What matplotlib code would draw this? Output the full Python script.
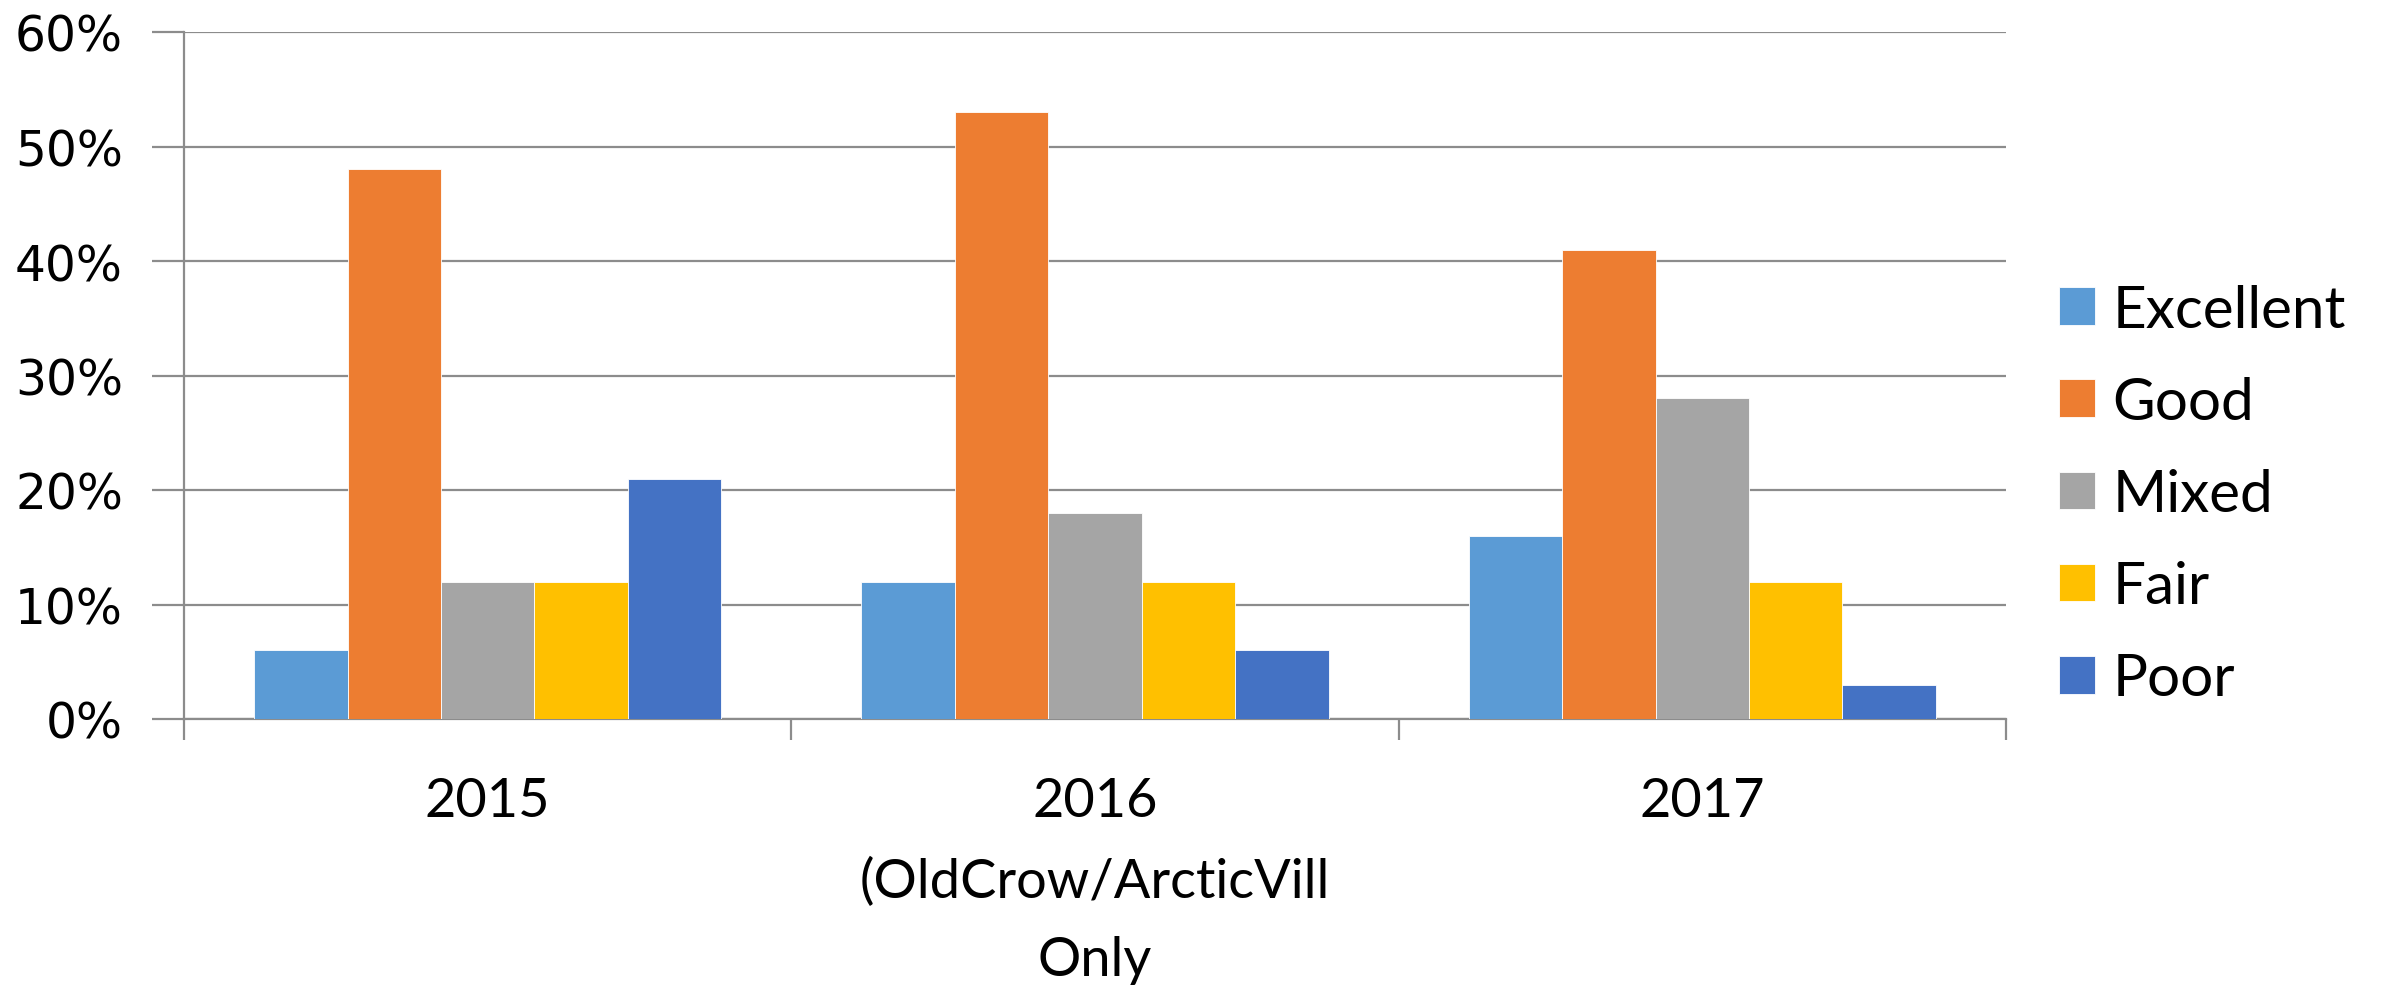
import numpy as np
from matplotlib import pyplot as plt

years = ['2015', '2016\n(OldCrow/ArcticVill\nOnly', '2017']
ratings = ['Excellent', 'Good', 'Mixed', 'Fair', 'Poor']
excellent = [6, 12, 16]
good = [48, 53, 41]
mixed = [12, 18, 28]
fair = [12, 12, 12]
poor = [21, 6, 3]
colors = ['#5B9BD5', '#ED7D31', '#A5A5A5', '#FFC000', '#4472C4']

series = [excellent, good, mixed, fair, poor]
grid_c = '#8c8c8c'

fig = plt.figure(figsize=(23.81, 9.87), dpi=100)
ax = fig.add_axes([184/2381, 1-720/987, (2006-184)/2381, (720-33)/987])

x = np.arange(len(years))
w = 1/6.5  # excel gap width 150%
for j, vals in enumerate(series):
    ax.bar(x + (j-2)*w, vals, w, color=colors[j], label=ratings[j],
           edgecolor='white', linewidth=0.6, zorder=3)

ax.set_xlim(-0.5, 2.5)
ax.set_ylim(0, 60)
ax.set_yticks(np.arange(0, 61, 10))
ax.set_yticklabels([f'{v}%' for v in range(0, 61, 10)])
ax.yaxis.grid(True, color=grid_c, linewidth=1.6, zorder=0)
ax.set_axisbelow(True)

for s in ['top', 'right']:
    ax.spines[s].set_visible(False)
ax.spines['left'].set_color(grid_c)
ax.spines['bottom'].set_color(grid_c)
ax.spines['left'].set_linewidth(1.6)
ax.spines['bottom'].set_linewidth(1.6)

ax.tick_params(axis='y', direction='out', length=23, width=1.6, color=grid_c,
               pad=21, labelsize=35)
for t in ax.get_yticklabels():
    t.set_family('DejaVu Sans')

ax.set_xticks(x)
ax.set_xticklabels(years, fontsize=39, family='Lato', linespacing=1.74)
ax.tick_params(axis='x', which='major', length=0, pad=41)
ax.set_xticks([-0.5, 0.5, 1.5, 2.5], minor=True)
ax.tick_params(axis='x', which='minor', direction='out', length=15,
               width=1.6, color=grid_c)

fig.legend(loc='center left', bbox_to_anchor=(2059/2381, 0.498), frameon=False,
           prop={'family': 'Lato', 'size': 42}, handlelength=0.62,
           handleheight=0.62, handletextpad=0.3, labelspacing=0.67,
           borderpad=0, borderaxespad=0)

fig.savefig('out.png', dpi=100)
